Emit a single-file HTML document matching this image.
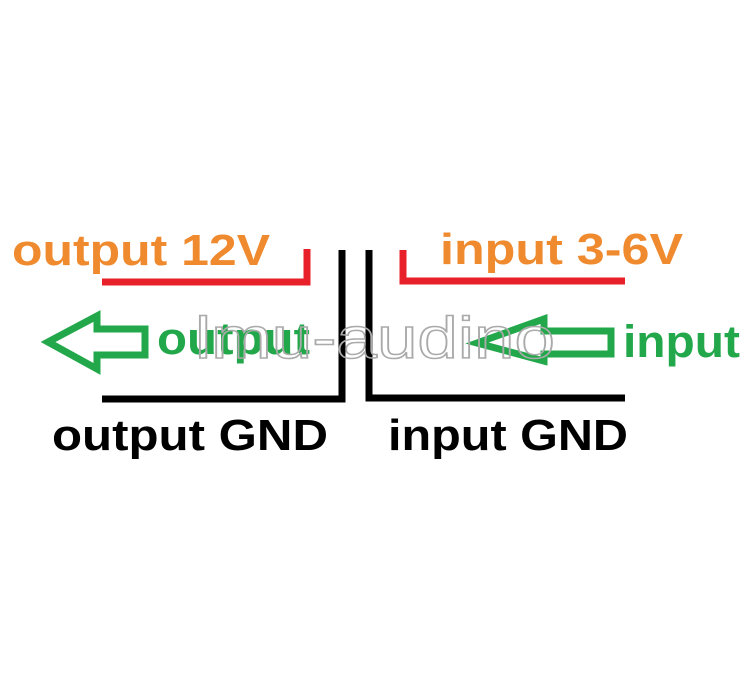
<!DOCTYPE html>
<html><head><meta charset="utf-8"><style>
html,body{margin:0;padding:0;background:#fff;}
</style></head><body>
<svg width="746" height="680" viewBox="0 0 746 680" xmlns="http://www.w3.org/2000/svg" style="display:block">
<rect width="746" height="680" fill="#fff"/>
<g font-family="Liberation Sans, sans-serif" font-weight="bold">
<text x="12" y="265" font-size="44" fill="#f08a2e" textLength="258" lengthAdjust="spacingAndGlyphs">output 12V</text>
<text x="440" y="264" font-size="44" fill="#f08a2e" textLength="243" lengthAdjust="spacingAndGlyphs">input 3-6V</text>
<text x="52" y="450" font-size="44" fill="#000" textLength="276" lengthAdjust="spacingAndGlyphs">output GND</text>
<text x="388" y="450" font-size="44" fill="#000" textLength="240" lengthAdjust="spacingAndGlyphs">input GND</text>
<text x="157" y="354" font-size="45" fill="#22a84a" textLength="153" lengthAdjust="spacingAndGlyphs">output</text>
<text x="623" y="357" font-size="45" fill="#22a84a" textLength="117" lengthAdjust="spacingAndGlyphs">input</text>
</g>
<polyline points="102,282 307,282 307,249" fill="none" stroke="#e8202a" stroke-width="7"/>
<polyline points="403,250 403,281 625,281" fill="none" stroke="#e8202a" stroke-width="7"/>
<polyline points="102,399 342,399 342,250" fill="none" stroke="#000" stroke-width="7"/>
<polyline points="369,250 369,398 625,398" fill="none" stroke="#000" stroke-width="7"/>
<polygon points="48,342 97,316 97,329 145,329 145,355 97,355 97,369" fill="none" stroke="#22a84a" stroke-width="7" stroke-linejoin="miter"/>
<polygon points="477,343 544,319 544,331 611,331 611,354 544,354 544,361" fill="none" stroke="#22a84a" stroke-width="7"/>
<text x="195" y="358" font-family="Liberation Sans, sans-serif" font-size="58" fill="none" stroke="#aaa" stroke-width="1.5" textLength="360" lengthAdjust="spacingAndGlyphs">lmu-audino</text>
</svg>
</body></html>
